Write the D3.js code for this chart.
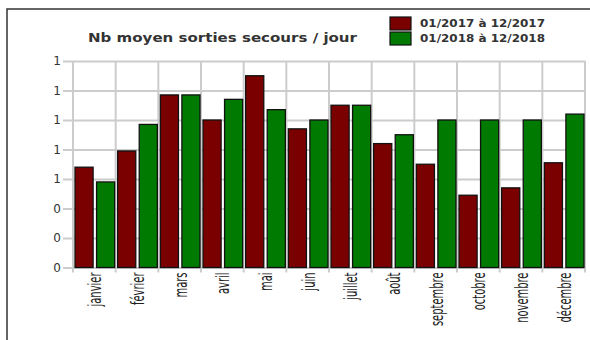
<!DOCTYPE html>
<html>
<head>
<meta charset="utf-8">
<script src="https://cdn.jsdelivr.net/npm/d3@7"></script>
<style>
  html, body { margin: 0; padding: 0; background: #fff; }
  svg { display: block; }
</style>
</head>
<body>
<div id="chart"></div>
<script>
// Average number of rescue call-outs per day, by month, 2017 vs 2018
const months = ["janvier", "février", "mars", "avril", "mai", "juin", "juillet",
                "août", "septembre", "octobre", "novembre", "décembre"];
const seriesNames = ["01/2017 à 12/2017", "01/2018 à 12/2018"];
const values2017 = [0.68, 0.79, 1.17, 1.00, 1.30, 0.94, 1.10, 0.84, 0.70, 0.49, 0.54, 0.71];
const values2018 = [0.58, 0.97, 1.17, 1.14, 1.07, 1.00, 1.10, 0.90, 1.00, 1.00, 1.00, 1.04];
const yTicks = [0, 0.2, 0.4, 0.6, 0.8, 1.0, 1.2, 1.4];
const colors = ["#7a0000", "#007a00"];

const W = 590, H = 340;
const margin = { left: 73, right: 5, top: 61, bottom: 72.5 };

const svg = d3.select("#chart").append("svg")
  .attr("width", W).attr("height", H);

// outer frame (top and left edges visible)
svg.append("path")
  .attr("d", `M7,${H + 2} L7,9 L${W + 2},9`)
  .attr("fill", "none").attr("stroke", "#333").attr("stroke-width", 1.5);

const x0 = d3.scaleBand()
  .domain(months)
  .range([margin.left, W - margin.right])
  .paddingInner(0).paddingOuter(0);

const x1 = d3.scaleBand()
  .domain(seriesNames)
  .range([2, x0.bandwidth() - 1])
  .paddingInner(0.16);

const y = d3.scaleLinear()
  .domain([0, 1.4])
  .range([H - margin.bottom, margin.top]);

const grid = "#cccccc";

// horizontal grid lines + y ticks
const yAxis = d3.axisLeft(y)
  .tickValues(yTicks)
  .tickFormat(d3.format(".0f"))
  .tickSize(-(W - margin.right - margin.left + 10))
  .tickPadding(2);

const gy = svg.append("g")
  .attr("transform", `translate(${margin.left - 10},0)`)
  .call(yAxis);
gy.select(".domain").remove();
gy.selectAll(".tick line").attr("stroke", grid).attr("stroke-width", 2);
gy.selectAll(".tick text")
  .attr("fill", "#333")
  .style("font-family", "DejaVu Sans, Verdana, sans-serif")
  .style("font-size", "12px");

// vertical grid lines at month boundaries, extending below as ticks
const bounds = months.map(m => x0(m)).concat([x0.range()[1]]);
svg.append("g").selectAll("line")
  .data(bounds)
  .join("line")
  .attr("x1", d => d).attr("x2", d => d)
  .attr("y1", margin.top).attr("y2", H - margin.bottom + 5)
  .attr("stroke", grid).attr("stroke-width", 2);

// bars
const rows = months.map((m, i) => ({ month: m, vals: [values2017[i], values2018[i]] }));
const groups = svg.append("g").selectAll("g")
  .data(rows)
  .join("g")
  .attr("transform", d => `translate(${x0(d.month)},0)`);

groups.selectAll("rect")
  .data(d => d.vals.map((v, k) => ({ key: seriesNames[k], v, k })))
  .join("rect")
  .attr("x", d => x1(d.key))
  .attr("width", x1.bandwidth())
  .attr("y", d => y(d.v))
  .attr("height", d => y(0) - y(d.v))
  .attr("fill", d => colors[d.k])
  .attr("stroke", "#111")
  .attr("stroke-width", 1.3);

// month labels, rotated and condensed
svg.append("g").selectAll("text")
  .data(months)
  .join("text")
  .attr("transform", d => `translate(${x0(d) + x0.bandwidth() / 2 + 1},${H - margin.bottom + 5}) scale(1.25,0.79) rotate(-90)`)
  .attr("text-anchor", "end")
  .attr("dy", "0.35em")
  .attr("fill", "#222")
  .style("font-family", "Liberation Sans Narrow, DejaVu Sans Condensed, sans-serif")
  .style("font-size", "14px")
  .text(d => d);

// title
svg.append("text")
  .attr("x", 88).attr("y", 41.5)
  .attr("textLength", 269)
  .attr("lengthAdjust", "spacingAndGlyphs")
  .attr("fill", "#333")
  .style("font-family", "DejaVu Sans, Verdana, sans-serif")
  .style("font-weight", "bold")
  .style("font-size", "11.5px")
  .text("Nb moyen sorties secours / jour");

// legend
const legend = svg.append("g").selectAll("g")
  .data(seriesNames)
  .join("g")
  .attr("transform", (d, i) => `translate(390,${17 + i * 15})`);

legend.append("rect")
  .attr("width", 21).attr("height", 13)
  .attr("fill", (d, i) => colors[i])
  .attr("stroke", "#111").attr("stroke-width", 1.2);

legend.append("text")
  .attr("x", 30).attr("y", 9.5)
  .attr("textLength", 125)
  .attr("lengthAdjust", "spacingAndGlyphs")
  .attr("fill", "#333")
  .style("font-family", "DejaVu Sans, Verdana, sans-serif")
  .style("font-weight", "bold")
  .style("font-size", "10.5px")
  .text(d => d);
</script>
</body>
</html>
